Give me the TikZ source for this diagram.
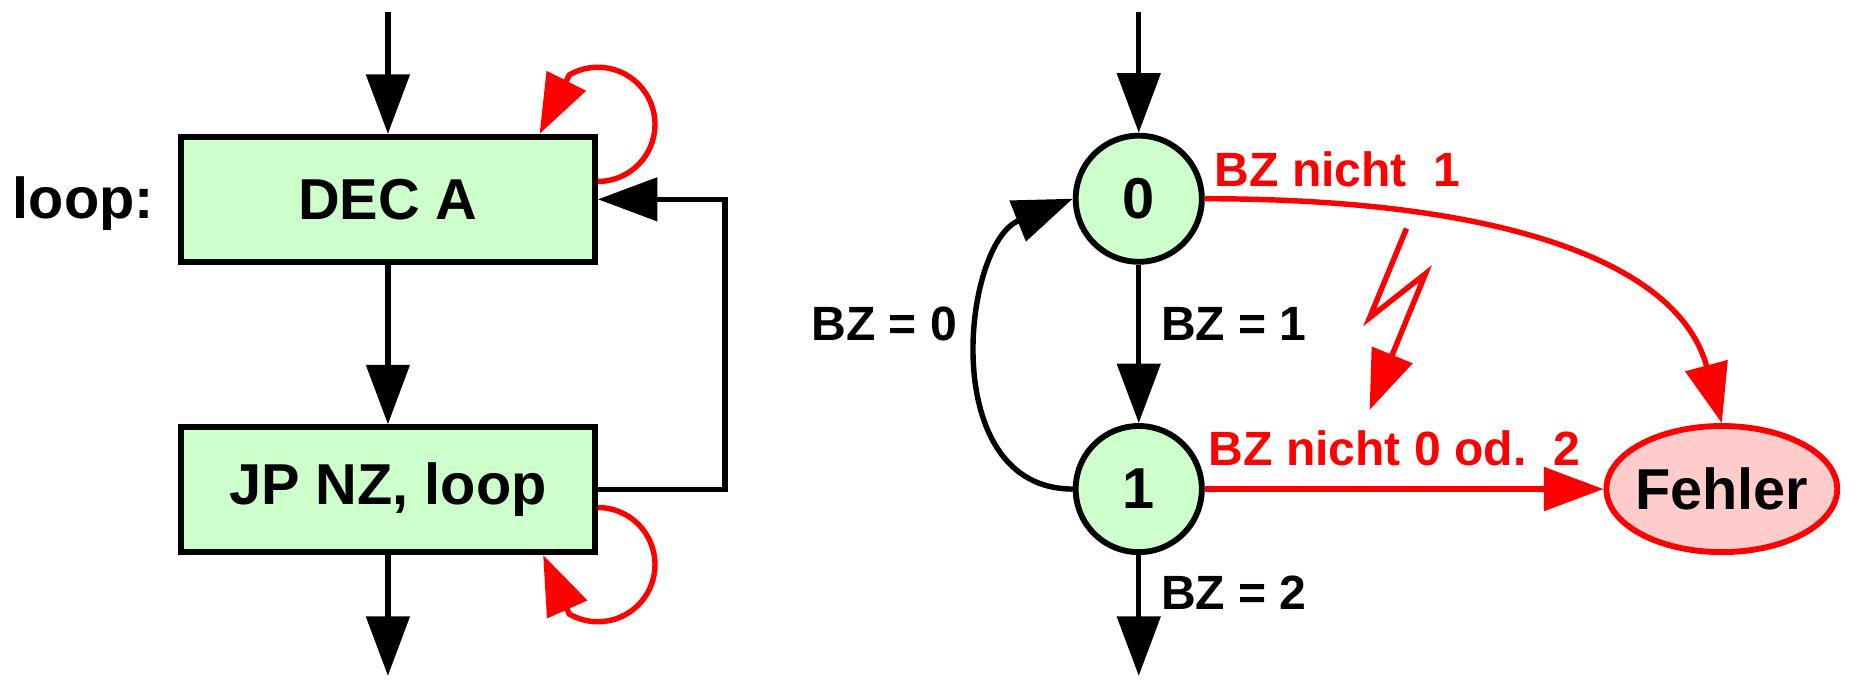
\documentclass[tikz,border=0pt]{standalone}
\usepackage{fontspec}
\setmainfont{Liberation Sans}
\usetikzlibrary{arrows.meta,shapes.geometric,positioning}

\begin{document}
\begin{tikzpicture}[
		>={Triangle[length=0.5cm,width=0.36cm]},
		every node/.style = {font=\bfseries\fontsize{13.8}{16}\selectfont},
		block/.style = {rectangle, draw, line width=1.4pt, fill=green!20, minimum width=3.48cm, minimum height=1.05cm},
		state/.style = {circle, draw, line width=1.4pt, fill=green!20, minimum size=1.06cm, inner sep=0pt},
		fail/.style = {ellipse, draw=red, line width=1.4pt, fill=red!20, minimum width=1.94cm, minimum height=1.06cm, inner sep=0pt, inner xsep=-2pt},
		conn/.style = {->, line width=1.3pt},
		errconn/.style = {->, red, line width=1.3pt},
		lbl/.style = {font=\bfseries\fontsize{11.5}{14}\selectfont, inner sep=0pt}]
		\useasboundingbox (0,0) rectangle (15.69,5.85);
		
		\node[block] (dec) at (3.26,4.175) {DEC A};
		\node[block] (jp) at (3.26,1.735) {JP NZ, loop};
		\node[anchor=base east, inner sep=0pt] (looplbl) at (1.30,4.015) {loop:};
		\node[state] (s0) at (9.57,4.18) {0};
		\node[state] (s1) at (9.57,1.74) {1};
		\node[fail] (err) at (14.47,1.74) {Fehler};
		
		\coordinate (inL) at (3.26,5.75);
		\coordinate (outL) at (3.26,0.17);
		\coordinate (inR) at (9.57,5.75);
		\coordinate (outR) at (9.57,0.17);
		
		\draw[conn] (inL) -- (dec);
		\draw[conn] (dec) -- (jp);
		\draw[conn] (jp) -- (outL);
		\draw[conn] (jp.east) -- ++(1.07,0) |- (dec.east);
		\draw[errconn] ([yshift=0.15cm]dec.east) arc[start angle=-90, end angle=120, radius=0.48cm] -- ([xshift=-0.49cm]dec.north east);
		\draw[errconn] ([yshift=-0.15cm]jp.east) arc[start angle=90, end angle=-120, radius=0.48cm] -- ([xshift=-0.46cm]jp.south east);
		
		\draw[conn] (inR) -- (s0);
		\draw[conn] (s0) -- (s1);
		\draw[conn] (s1) -- (outR);
		\draw[conn] (s1.west) .. controls +(180:1.15) and +(202:1.0) .. (s0.west);
		\draw[errconn] (s1) -- (err);
		\draw[errconn] (s0.east) .. controls +(0:2.5) and +(105:1.4) .. (err.north);
		
		\coordinate (z0) at (11.82,3.93);
		\coordinate (z1) at (11.51,3.18);
		\coordinate (z2) at (11.98,3.55);
		\coordinate (z3) at (11.51,2.405);
		\draw[errconn, line join=miter] (z0) -- (z1) -- (z2) -- (z3);
		
		\node[lbl, anchor=west] (bz1) at (9.75,3.13) {BZ = 1};
		\node[lbl, anchor=east] (bz0) at (8.05,3.13) {BZ = 0};
		\node[lbl, anchor=west] (bz2) at (9.75,0.87) {BZ = 2};
		\node[lbl, red, anchor=west] (not1) at (10.20,4.43) {BZ nicht\ \ 1};
		\node[lbl, red, anchor=west] (not02) at (10.15,2.08) {BZ nicht 0 od.\ \ 2};
		\end{tikzpicture}
\end{document}
